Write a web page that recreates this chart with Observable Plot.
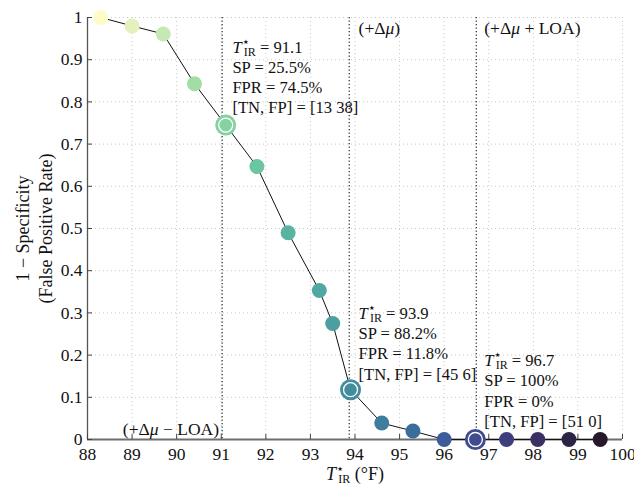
<!DOCTYPE html>
<html>
<head>
<meta charset="utf-8">
<script src="https://cdn.jsdelivr.net/npm/d3@7"></script>
<script src="https://cdn.jsdelivr.net/npm/@observablehq/plot@0.6"></script>
<style>
  html, body { margin: 0; padding: 0; background: #fff; }
</style>
</head>
<body>
<div id="chart"></div>
<script>
// ---- data ----
const thresholds = [88.3, 89.0, 89.7, 90.4, 91.1, 91.8, 92.5, 93.2, 93.5, 93.9, 94.6, 95.3, 96.0, 96.7, 97.4, 98.1, 98.8, 99.5];
const fpr = [1, 0.980, 0.961, 0.843, 0.745, 0.647, 0.490, 0.353, 0.275, 0.118, 0.039, 0.020, 0, 0, 0, 0, 0, 0];
const pointColors = ["#fdfbc8", "#e3f2bd", "#c6e8b3", "#a3dda6", "#84d2a0", "#6ac5a0", "#58b4a0", "#50a8a2", "#4c9fa0",
  "#438c9e", "#3e7d9c", "#3b6d9c", "#3d5d9a", "#3f4c90", "#3f3e7c", "#3a3064", "#2d2345", "#25192a"];

const highlightX = [91.1, 93.9, 96.7];
const highlightY = [0.745, 0.118, 0];

const refLines = [91.02, 93.87, 96.72];
const refLabelLeft = ["(+Δμ − LOA)"];
const refLabelLeftX = [90.95];
const refLabelLeftY = [0.024];
const refLabelRight = ["(+Δμ)", "(+Δμ + LOA)"];
const refLabelRightX = [94.08, 96.9];
const refLabelRightY = [0.975, 0.975];

const annotText = [
  "T⋆IR = 91.1\nSP = 25.5%\nFPR = 74.5%\n[TN, FP] = [13 38]",
  "T⋆IR = 93.9\nSP = 88.2%\nFPR = 11.8%\n[TN, FP] = [45 6]",
  "T⋆IR = 96.7\nSP = 100%\nFPR = 0%\n[TN, FP] = [51 0]"
];
const annotX = [91.25, 94.08, 96.9];
const annotY = [0.951, 0.320, 0.208];

const xTicks = [88, 89, 90, 91, 92, 93, 94, 95, 96, 97, 98, 99, 100];
const yTicks = [0, 0.1, 0.2, 0.3, 0.4, 0.5, 0.6, 0.7, 0.8, 0.9, 1];
const xLabel = "T⋆IR (°F)";
const yLabel = "1 − Specificity\n(False Positive Rate)";

// ---- tables ----
const points = thresholds.map((t, i) => ({t, f: fpr[i]}));
const highlights = highlightX.map((t, i) => ({t, f: highlightY[i]}));
const refsL = refLabelLeft.map((s, i) => ({s, x: refLabelLeftX[i], y: refLabelLeftY[i]}));
const refsR = refLabelRight.map((s, i) => ({s, x: refLabelRightX[i], y: refLabelRightY[i]}));
const annots = annotText.map((s, i) => ({s, x: annotX[i], y: annotY[i]}));

const W = 634, H = 491, mL = 87, mR = 12, mT = 17, mB = 52;
const frameW = W - mL - mR, frameH = H - mT - mB;
const font = "'Liberation Serif', 'DejaVu Serif', serif";

const chart = Plot.plot({
  width: W, height: H,
  marginLeft: mL, marginRight: mR, marginTop: mT, marginBottom: mB,
  style: {fontFamily: font, fontSize: "17px", color: "#111", background: "#fff", overflow: "visible"},
  x: {domain: [88, 100]},
  y: {domain: [0, 1]},
  color: {type: "ordinal", domain: thresholds, range: pointColors},
  marks: [
    Plot.gridX(xTicks, {stroke: "#c8c8c8", strokeOpacity: 1, strokeDasharray: "1,3"}),
    Plot.gridY(yTicks, {stroke: "#c8c8c8", strokeOpacity: 1, strokeDasharray: "1,3"}),
    Plot.ruleX(refLines, {stroke: "#111", strokeDasharray: "1.2,2.3", strokeWidth: 1.1}),
    // axis lines and inward ticks
    Plot.ruleX([88], {stroke: "#555", strokeWidth: 1.3}),
    Plot.ruleY([0], {stroke: "#6e6e6e", strokeWidth: 2}),
    Plot.tickX(xTicks, {stroke: "#444", insetTop: frameH - 5}),
    Plot.tickY(yTicks, {stroke: "#444", insetRight: frameW - 5}),
    Plot.axisX(xTicks, {tickSize: 0, tickPadding: 8, label: null, fontSize: 17.5}),
    Plot.axisY(yTicks, {tickSize: 0, tickPadding: 5, label: null, fontSize: 17.5, tickFormat: d => String(d)}),
    // curve
    Plot.line(points, {x: "t", y: "f", stroke: "#111", strokeWidth: 1}),
    Plot.dot(points, {x: "t", y: "f", r: 7.5, fill: "t", stroke: "none"}),
    Plot.dot(highlights, {x: "t", y: "f", r: 10.5, fill: "t", stroke: "none"}),
    Plot.dot(highlights, {x: "t", y: "f", r: 7, fill: "none", stroke: "white", strokeWidth: 1.3}),
    // labels
    Plot.text(refsL, {x: "x", y: "y", text: "s", textAnchor: "end", fill: "#111", fontSize: 17.5}),
    Plot.text(refsR, {x: "x", y: "y", text: "s", textAnchor: "start", fill: "#111", fontSize: 17.5}),
    Plot.text(annots, {x: "x", y: "y", text: "s", textAnchor: "start", lineAnchor: "top", lineHeight: 1.22, fill: "#111", fontSize: 16.6}),
    Plot.text([xLabel], {frameAnchor: "bottom", dy: 40, fill: "#111", fontSize: 18}),
    Plot.text([yLabel], {frameAnchor: "left", textAnchor: "middle", rotate: -90, dx: -54, lineHeight: 1.25, fill: "#111", fontSize: 18})
  ]
});

// Typeset T⋆IR and italic μ with tspans
const NS = "http://www.w3.org/2000/svg";
function typeset(el) {
  const s = el.textContent;
  if (!s.includes("T⋆IR") && !s.includes("μ")) return;
  while (el.firstChild) el.removeChild(el.firstChild);
  const add = (txt, attrs) => {
    const t = document.createElementNS(NS, "tspan");
    for (const k in attrs) t.setAttribute(k, attrs[k]);
    t.textContent = txt;
    el.appendChild(t);
  };
  if (s.startsWith("T⋆IR")) {
    add("T", {"font-style": "italic"});
    add("⋆", {"font-size": "13px", dy: "-7", "font-family": "'DejaVu Sans', sans-serif"});
    add("IR", {"font-size": "12px", dx: "-6", dy: "10"});
    add(s.slice(4), {dy: "-3"});
    return;
  }
  const parts = s.split("μ");
  parts.forEach((p, i) => {
    if (i > 0) add("μ", {"font-style": "italic"});
    if (p) add(p, {});
  });
}
d3.select(chart).selectAll("text, tspan").each(function () {
  if (this.children.length === 0) typeset(this);
});

document.getElementById("chart").appendChild(chart);
</script>
</body>
</html>
